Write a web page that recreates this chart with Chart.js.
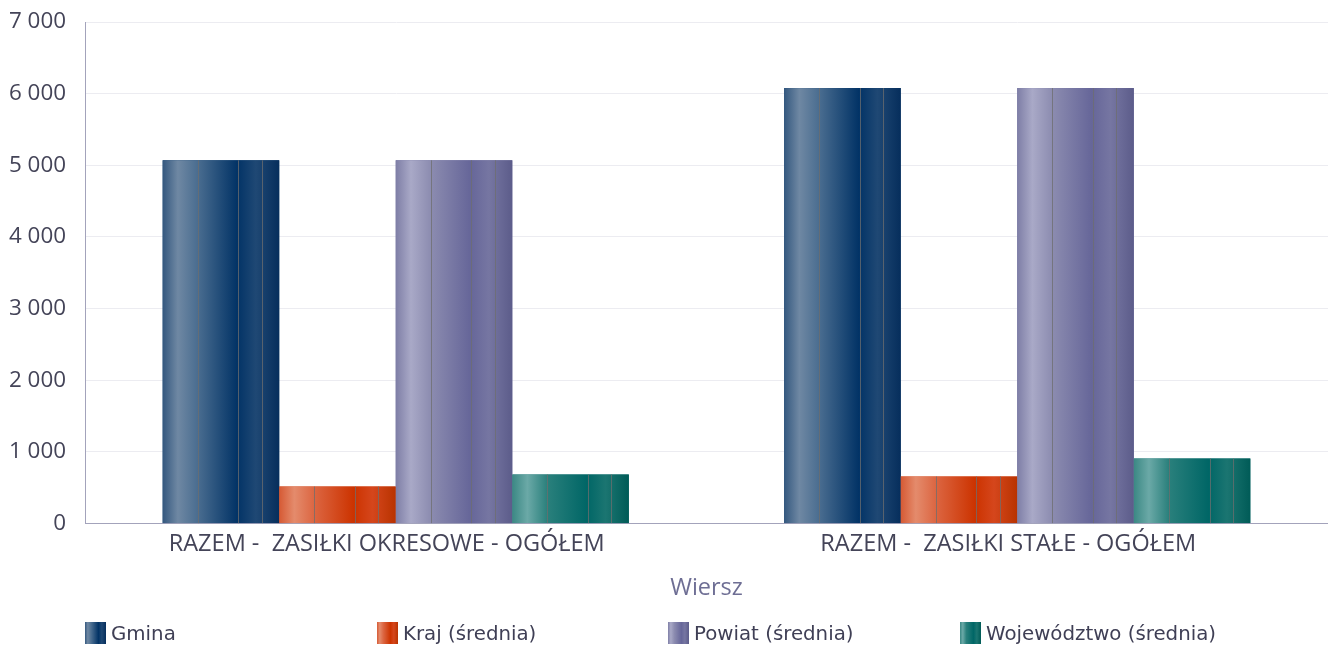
<!DOCTYPE html>
<html>
<head>
<meta charset="utf-8">
<script src="https://cdn.jsdelivr.net/npm/chart.js@4/dist/chart.umd.min.js"></script>
<style>
  body { margin: 0; background: #fff; }
  #wrap { position: relative; width: 1328px; height: 648px; }
  #legend { position: absolute; left: 0; top: 621px; width: 1328px; height: 26px; font-family: "DejaVu Sans", sans-serif; font-size: 19.8px; color: #3f3f55; }
  .item { position: absolute; top: 0; display: flex; align-items: center; height: 24px; }
  .sw { width: 21px; height: 22px; margin-right: 5px; }
</style>
</head>
<body>
<div id="wrap">
  <canvas id="chart"></canvas>
  <div id="legend"></div>
</div>
<script>
const categories = ["RAZEM -  ZASIŁKI OKRESOWE - OGÓŁEM", "RAZEM -  ZASIŁKI STAŁE - OGÓŁEM"];
const seriesNames = ["Gmina", "Kraj (średnia)", "Powiat (średnia)", "Województwo (średnia)"];
const gmina = [5070, 6078];
const kraj = [517, 657];
const powiat = [5070, 6078];
const wojewodztwo = [685, 908];
const yTicks = [0, 1000, 2000, 3000, 4000, 5000, 6000, 7000];

// gradient stops per series (position, colour)
const stops = [
  [[0, "#34587f"], [0.13, "#6f88a3"], [0.3, "#4a6d90"], [0.64, "#023366"], [0.8, "#1f4874"], [1, "#062e5c"]],
  [[0, "#d65a34"], [0.13, "#e48b6c"], [0.3, "#dc6642"], [0.64, "#cc3300"], [0.8, "#d5461c"], [1, "#b83300"]],
  [[0, "#7e7ea6"], [0.13, "#a9a9c7"], [0.3, "#8c8cb0"], [0.64, "#666699"], [0.8, "#7676a2"], [1, "#5c5c8a"]],
  [[0, "#3b8884"], [0.13, "#6ba9a7"], [0.3, "#2a807c"], [0.64, "#006666"], [0.8, "#1b7571"], [1, "#005b57"]]
];
const lineStops = [0.3, 0.65, 0.85];

function fmt(v) {
  return String(v).replace(/\B(?=(\d{3})+(?!\d))/g, " ");
}

// paints each bar with its own horizontal gradient and the thin seams
const barPaint = {
  id: "barPaint",
  afterDatasetsDraw(chart) {
    const ctx = chart.ctx;
    ctx.save();
    chart.data.datasets.forEach((ds, i) => {
      chart.getDatasetMeta(i).data.forEach((bar) => {
        const left = bar.x - bar.width / 2;
        const g = ctx.createLinearGradient(left, 0, left + bar.width, 0);
        stops[i].forEach((s) => g.addColorStop(s[0], s[1]));
        ctx.fillStyle = g;
        ctx.fillRect(left, bar.y, bar.width, bar.base - bar.y);
        ctx.strokeStyle = "rgba(110,110,110,0.75)";
        ctx.lineWidth = 1;
        lineStops.forEach((p) => {
          const x = Math.round(left + bar.width * p) + 0.5;
          ctx.beginPath();
          ctx.moveTo(x, bar.y);
          ctx.lineTo(x, bar.base);
          ctx.stroke();
        });
      });
    });
    ctx.restore();
  }
};

const values = [gmina, kraj, powiat, wojewodztwo];
new Chart(document.getElementById("chart"), {
  type: "bar",
  data: {
    labels: categories,
    datasets: seriesNames.map((name, i) => ({
      label: name,
      data: values[i],
      backgroundColor: stops[i][3][1],
      borderWidth: 0,
      categoryPercentage: 0.75,
      barPercentage: 1
    }))
  },
  options: {
    responsive: true,
    maintainAspectRatio: false,
    animation: false,
    layout: { padding: { top: 22, right: 0, bottom: 42, left: 0 } },
    plugins: { legend: { display: false }, tooltip: { enabled: false } },
    scales: {
      x: {
        grid: { display: false },
        border: { color: "#a3a3bb", width: 1 },
        ticks: { color: "#444458", font: { family: "Open Sans", size: 23.5 }, padding: -1, labelOffset: -9 },
        title: { display: true, text: "Wiersz", color: "#6e6e94", font: { family: "Open Sans", size: 23.5 }, padding: { top: 16, bottom: 4 } }
      },
      y: {
        min: 0,
        max: 7000,
        afterBuildTicks(axis) { axis.ticks = yTicks.map((v) => ({ value: v })); },
        afterFit(axis) { axis.width = 85; axis.paddingTop = 0; axis.paddingBottom = 0; },
        grid: { color: "#ececf1", drawTicks: false },
        border: { color: "#a3a3bb", width: 1 },
        ticks: { color: "#444458", font: { family: "Open Sans", size: 22.4 }, padding: 19, callback: (v) => fmt(v) }
      }
    }
  },
  plugins: [barPaint]
});

// HTML legend
const legend = document.getElementById("legend");
const legendX = [85, 377, 668, 960];
seriesNames.forEach((name, i) => {
  const item = document.createElement("div");
  item.className = "item";
  item.style.left = legendX[i] + "px";
  const sw = document.createElement("div");
  sw.className = "sw";
  sw.style.background = "linear-gradient(to right, " + stops[i].map((s) => s[1] + " " + s[0] * 100 + "%").join(", ") + ")";
  const txt = document.createElement("span");
  txt.textContent = name;
  item.appendChild(sw);
  item.appendChild(txt);
  legend.appendChild(item);
});
</script>
</body>
</html>
